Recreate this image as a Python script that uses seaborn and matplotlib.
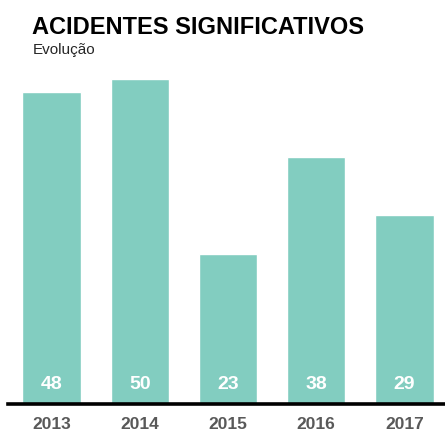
import matplotlib
matplotlib.use("Agg")
import matplotlib.pyplot as plt
import seaborn as sns
import pandas as pd

years = ["2013", "2014", "2015", "2016", "2017"]
values = [48, 50, 23, 38, 29]
title = "ACIDENTES SIGNIFICATIVOS"
subtitle = "Evolução"

sns.set_theme(style="white")
plt.rcParams['font.family'] = ['Liberation Sans', 'DejaVu Sans']

W, H = 445, 436
fig = plt.figure(figsize=(W / 100, H / 100), dpi=100)
ax_left = 7.5 / W
ax_bottom = (H - 404) / H
ax_height = (404 - 79) / H
ax = fig.add_axes([ax_left, ax_bottom, 441 / W, ax_height])

df = pd.DataFrame({"year": years, "value": values})
sns.barplot(data=df, x="year", y="value", color="#82CDC0", saturation=1,
            width=0.66, ax=ax, zorder=1)

ax.set_xlim(-0.5, 4.5)
ax.set_ylim(0, 50)
ax.set_xlabel("")
ax.set_ylabel("")
ax.set_yticks([])
for s in ["top", "right", "left"]:
    ax.spines[s].set_visible(False)
ax.spines["bottom"].set_color("black")
ax.spines["bottom"].set_linewidth(2.6)
ax.spines["bottom"].set_zorder(3)
ax.tick_params(axis="x", length=0, pad=9, labelsize=12.5, labelcolor="#595959")
for lbl in ax.get_xticklabels():
    lbl.set_fontweight("bold")

for i, v in enumerate(values):
    ax.annotate(str(v), xy=(i, 0), xytext=(0, 14.2), textcoords="offset points",
                ha="center", va="center", color="white", fontsize=14,
                fontweight="bold")

fig.text(32 / W, 1 - 33.5 / H, title, ha="left", va="baseline",
         fontsize=17, fontweight="bold", color="black")
fig.text(33 / W, 1 - 54 / H, subtitle, ha="left", va="baseline",
         fontsize=11, color="#262626")

fig.savefig("out.png", dpi=100)
